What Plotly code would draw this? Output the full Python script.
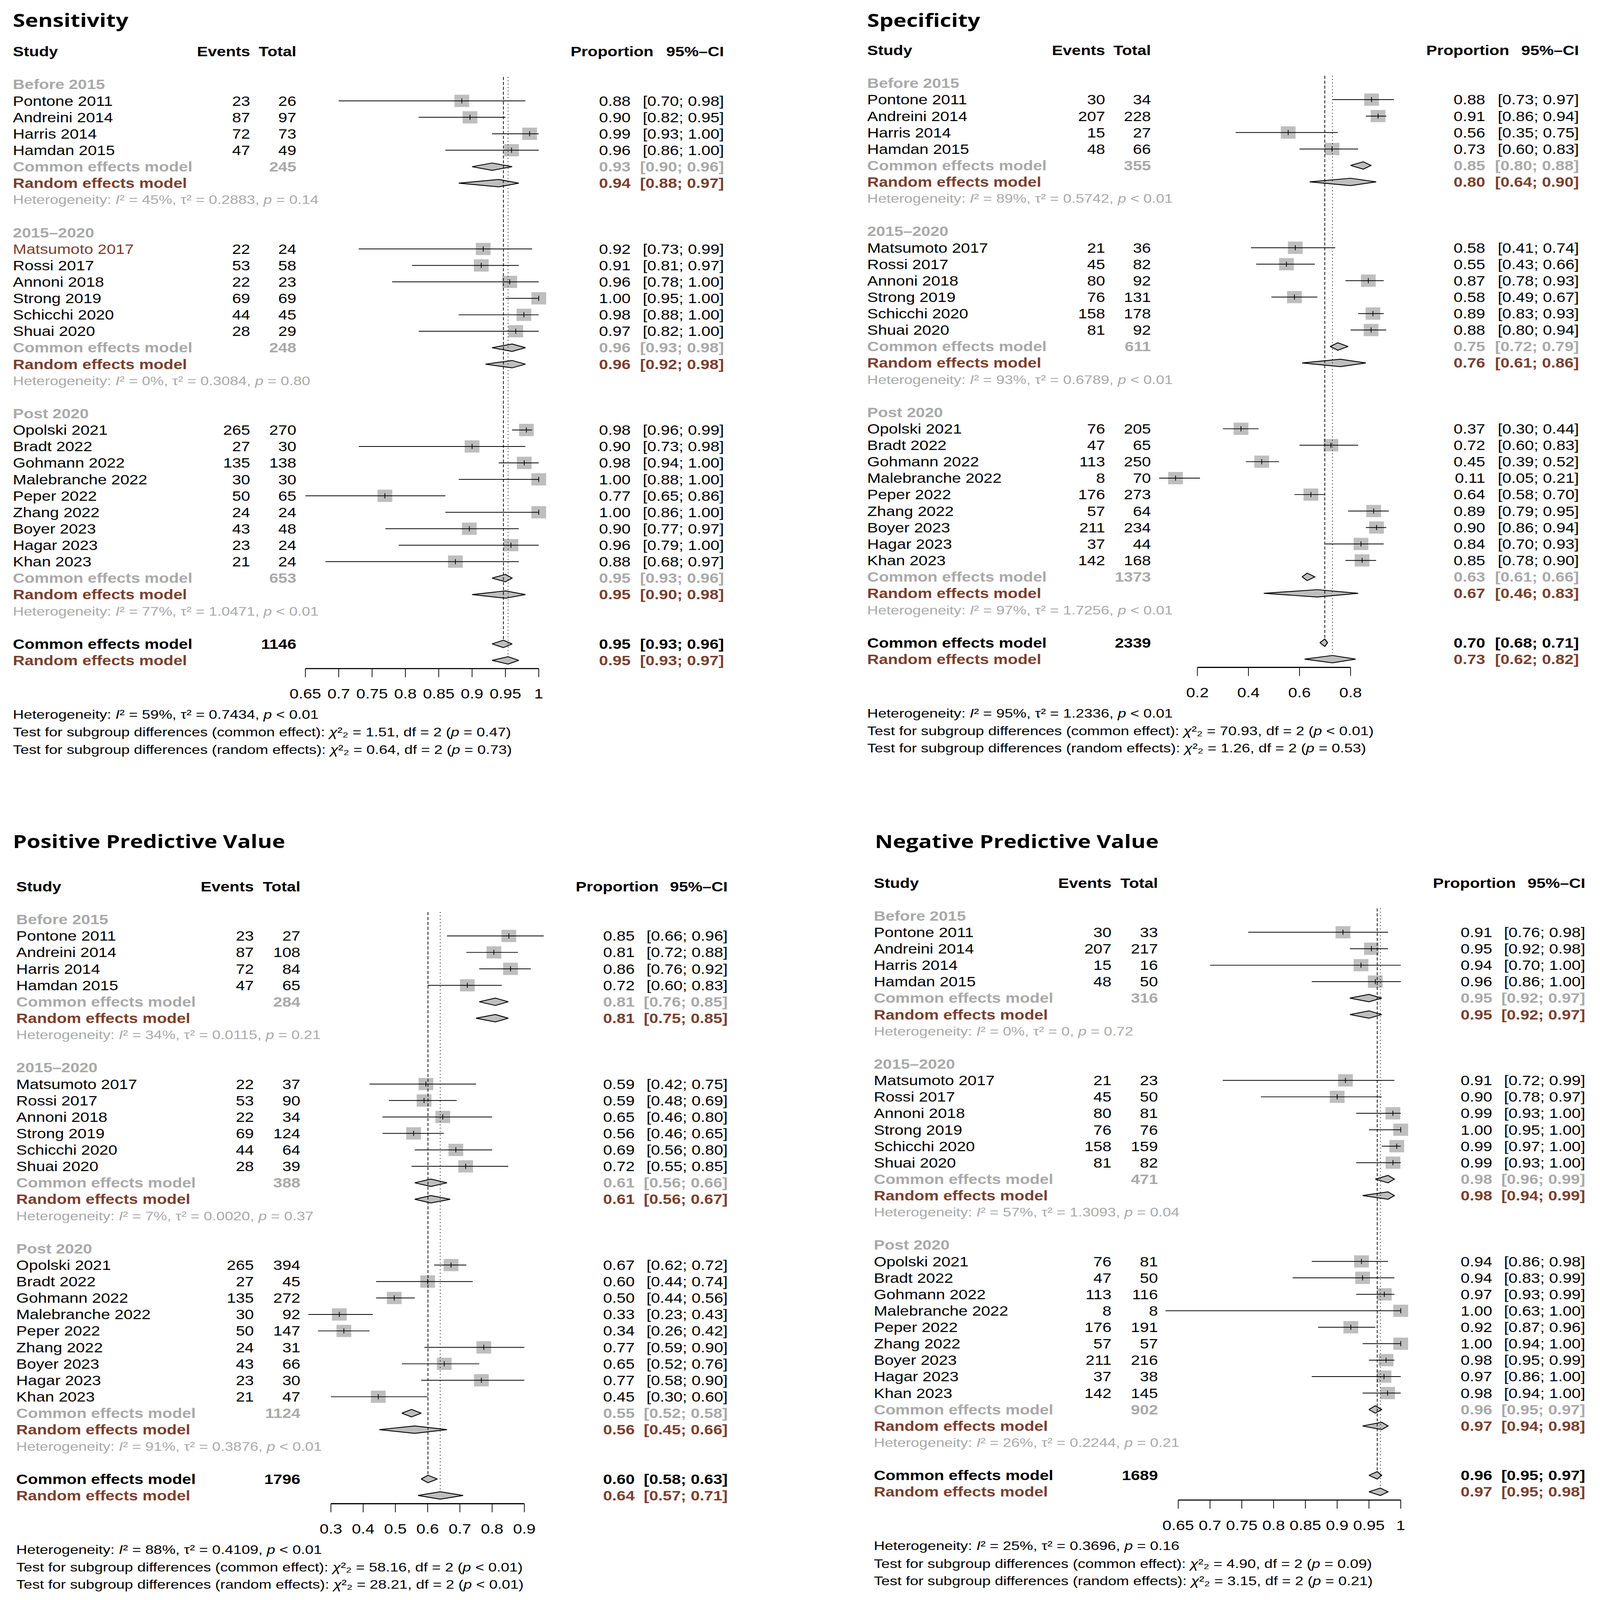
import plotly.graph_objects as go

W, H = 4336, 5221
RH = 53.7  # pixel height of one forest row

FONT = "Liberation Sans"
TITLE_FONT = "Open Sans"
BLACK = "#000000"
GRAY = "#a9a9a9"
BROWN = "#7b3f2e"
SQUARE = "#bebebe"

# ---------------- data ----------------
STUDIES = ["Pontone 2011", "Andreini 2014", "Harris 2014", "Hamdan 2015",
           "Matsumoto 2017", "Rossi 2017", "Annoni 2018", "Strong 2019", "Schicchi 2020", "Shuai 2020",
           "Opolski 2021", "Bradt 2022", "Gohmann 2022", "Malebranche 2022", "Peper 2022", "Zhang 2022",
           "Boyer 2023", "Hagar 2023", "Khan 2023"]
GROUPS = ["Before 2015", "2015–2020", "Post 2020"]
GROUP_SIZES = [4, 6, 9]

# Sensitivity
sens_events = [23, 87, 72, 47, 22, 53, 22, 69, 44, 28, 265, 27, 135, 30, 50, 24, 43, 23, 21]
sens_total = [26, 97, 73, 49, 24, 58, 23, 69, 45, 29, 270, 30, 138, 30, 65, 24, 48, 24, 24]
sens_prop = [0.88, 0.90, 0.99, 0.96, 0.92, 0.91, 0.96, 1.00, 0.98, 0.97, 0.98, 0.90, 0.98, 1.00, 0.77, 1.00, 0.90, 0.96, 0.88]
sens_lower = [0.70, 0.82, 0.93, 0.86, 0.73, 0.81, 0.78, 0.95, 0.88, 0.82, 0.96, 0.73, 0.94, 0.88, 0.65, 0.86, 0.77, 0.79, 0.68]
sens_upper = [0.98, 0.95, 1.00, 1.00, 0.99, 0.97, 1.00, 1.00, 1.00, 1.00, 0.99, 0.98, 1.00, 1.00, 0.86, 1.00, 0.97, 1.00, 0.97]
sens_sub_n = [245, 248, 653]
sens_sub_common = [(0.93, 0.90, 0.96), (0.96, 0.93, 0.98), (0.95, 0.93, 0.96)]
sens_sub_random = [(0.94, 0.88, 0.97), (0.96, 0.92, 0.98), (0.95, 0.90, 0.98)]
sens_sub_het = [("45%", "0.2883", "= 0.14"), ("0%", "0.3084", "= 0.80"), ("77%", "1.0471", "< 0.01")]
sens_n = 1146
sens_common = (0.947, 0.93, 0.96)
sens_random = (0.954, 0.93, 0.97)
sens_het = ("59%", "0.7434", "< 0.01")
sens_tests = [("common effect", "1.51", "= 0.47"), ("random effects", "0.64", "= 0.73")]
sens_ticks = [0.65, 0.7, 0.75, 0.8, 0.85, 0.9, 0.95, 1.0]
sens_tick_labels = ["0.65", "0.7", "0.75", "0.8", "0.85", "0.9", "0.95", "1"]

# Specificity
spec_events = [30, 207, 15, 48, 21, 45, 80, 76, 158, 81, 76, 47, 113, 8, 176, 57, 211, 37, 142]
spec_total = [34, 228, 27, 66, 36, 82, 92, 131, 178, 92, 205, 65, 250, 70, 273, 64, 234, 44, 168]
spec_prop = [0.88, 0.91, 0.56, 0.73, 0.58, 0.55, 0.87, 0.58, 0.89, 0.88, 0.37, 0.72, 0.45, 0.11, 0.64, 0.89, 0.90, 0.84, 0.85]
spec_lower = [0.73, 0.86, 0.35, 0.60, 0.41, 0.43, 0.78, 0.49, 0.83, 0.80, 0.30, 0.60, 0.39, 0.05, 0.58, 0.79, 0.86, 0.70, 0.78]
spec_upper = [0.97, 0.94, 0.75, 0.83, 0.74, 0.66, 0.93, 0.67, 0.93, 0.94, 0.44, 0.83, 0.52, 0.21, 0.70, 0.95, 0.94, 0.93, 0.90]
spec_sub_n = [355, 611, 1373]
spec_sub_common = [(0.85, 0.80, 0.88), (0.75, 0.72, 0.79), (0.63, 0.61, 0.66)]
spec_sub_random = [(0.80, 0.64, 0.90), (0.76, 0.61, 0.86), (0.67, 0.46, 0.83)]
spec_sub_het = [("89%", "0.5742", "< 0.01"), ("93%", "0.6789", "< 0.01"), ("97%", "1.7256", "< 0.01")]
spec_n = 2339
spec_common = (0.699, 0.68, 0.71)
spec_random = (0.729, 0.62, 0.82)
spec_het = ("95%", "1.2336", "< 0.01")
spec_tests = [("common effect", "70.93", "< 0.01"), ("random effects", "1.26", "= 0.53")]
spec_ticks = [0.2, 0.4, 0.6, 0.8]
spec_tick_labels = ["0.2", "0.4", "0.6", "0.8"]

# Positive predictive value
ppv_events = [23, 87, 72, 47, 22, 53, 22, 69, 44, 28, 265, 27, 135, 30, 50, 24, 43, 23, 21]
ppv_total = [27, 108, 84, 65, 37, 90, 34, 124, 64, 39, 394, 45, 272, 92, 147, 31, 66, 30, 47]
ppv_prop = [0.85, 0.81, 0.86, 0.72, 0.59, 0.59, 0.65, 0.56, 0.69, 0.72, 0.67, 0.60, 0.50, 0.33, 0.34, 0.77, 0.65, 0.77, 0.45]
ppv_lower = [0.66, 0.72, 0.76, 0.60, 0.42, 0.48, 0.46, 0.46, 0.56, 0.55, 0.62, 0.44, 0.44, 0.23, 0.26, 0.59, 0.52, 0.58, 0.30]
ppv_upper = [0.96, 0.88, 0.92, 0.83, 0.75, 0.69, 0.80, 0.65, 0.80, 0.85, 0.72, 0.74, 0.56, 0.43, 0.42, 0.90, 0.76, 0.90, 0.60]
ppv_sub_n = [284, 388, 1124]
ppv_sub_common = [(0.81, 0.76, 0.85), (0.61, 0.56, 0.66), (0.55, 0.52, 0.58)]
ppv_sub_random = [(0.81, 0.75, 0.85), (0.61, 0.56, 0.67), (0.56, 0.45, 0.66)]
ppv_sub_het = [("34%", "0.0115", "= 0.21"), ("7%", "0.0020", "= 0.37"), ("91%", "0.3876", "< 0.01")]
ppv_n = 1796
ppv_common = (0.601, 0.58, 0.63)
ppv_random = (0.639, 0.57, 0.71)
ppv_het = ("88%", "0.4109", "< 0.01")
ppv_tests = [("common effect", "58.16", "< 0.01"), ("random effects", "28.21", "< 0.01")]
ppv_ticks = [0.3, 0.4, 0.5, 0.6, 0.7, 0.8, 0.9]
ppv_tick_labels = ["0.3", "0.4", "0.5", "0.6", "0.7", "0.8", "0.9"]

# Negative predictive value
npv_events = [30, 207, 15, 48, 21, 45, 80, 76, 158, 81, 76, 47, 113, 8, 176, 57, 211, 37, 142]
npv_total = [33, 217, 16, 50, 23, 50, 81, 76, 159, 82, 81, 50, 116, 8, 191, 57, 216, 38, 145]
npv_prop = [0.91, 0.95, 0.94, 0.96, 0.91, 0.90, 0.99, 1.00, 0.99, 0.99, 0.94, 0.94, 0.97, 1.00, 0.92, 1.00, 0.98, 0.97, 0.98]
npv_lower = [0.76, 0.92, 0.70, 0.86, 0.72, 0.78, 0.93, 0.95, 0.97, 0.93, 0.86, 0.83, 0.93, 0.63, 0.87, 0.94, 0.95, 0.86, 0.94]
npv_upper = [0.98, 0.98, 1.00, 1.00, 0.99, 0.97, 1.00, 1.00, 1.00, 1.00, 0.98, 0.99, 0.99, 1.00, 0.96, 1.00, 0.99, 1.00, 1.00]
npv_sub_n = [316, 471, 902]
npv_sub_common = [(0.95, 0.92, 0.97), (0.98, 0.96, 0.99), (0.96, 0.95, 0.97)]
npv_sub_random = [(0.95, 0.92, 0.97), (0.98, 0.94, 0.99), (0.97, 0.94, 0.98)]
npv_sub_het = [("0%", "0", "= 0.72"), ("57%", "1.3093", "= 0.04"), ("26%", "0.2244", "= 0.21")]
npv_n = 1689
npv_common = (0.963, 0.95, 0.97)
npv_random = (0.968, 0.95, 0.98)
npv_het = ("25%", "0.3696", "= 0.16")
npv_tests = [("common effect", "4.90", "= 0.09"), ("random effects", "3.15", "= 0.21")]
npv_ticks = [0.65, 0.7, 0.75, 0.8, 0.85, 0.9, 0.95, 1.0]
npv_tick_labels = ["0.65", "0.7", "0.75", "0.8", "0.85", "0.9", "0.95", "1"]

PANELS = [
    dict(title="Sensitivity", events=sens_events, total=sens_total, prop=sens_prop, lower=sens_lower,
         upper=sens_upper, sub_n=sens_sub_n, sub_common=sens_sub_common, sub_random=sens_sub_random,
         sub_het=sens_sub_het, n=sens_n, common=sens_common, random=sens_random, het=sens_het,
         tests=sens_tests, ticks=sens_ticks, tick_labels=sens_tick_labels, brown_studies=["Matsumoto 2017"]),
    dict(title="Specificity", events=spec_events, total=spec_total, prop=spec_prop, lower=spec_lower,
         upper=spec_upper, sub_n=spec_sub_n, sub_common=spec_sub_common, sub_random=spec_sub_random,
         sub_het=spec_sub_het, n=spec_n, common=spec_common, random=spec_random, het=spec_het,
         tests=spec_tests, ticks=spec_ticks, tick_labels=spec_tick_labels, brown_studies=[]),
    dict(title="Positive Predictive Value", events=ppv_events, total=ppv_total, prop=ppv_prop, lower=ppv_lower,
         upper=ppv_upper, sub_n=ppv_sub_n, sub_common=ppv_sub_common, sub_random=ppv_sub_random,
         sub_het=ppv_sub_het, n=ppv_n, common=ppv_common, random=ppv_random, het=ppv_het,
         tests=ppv_tests, ticks=ppv_ticks, tick_labels=ppv_tick_labels, brown_studies=[]),
    dict(title="Negative Predictive Value", events=npv_events, total=npv_total, prop=npv_prop, lower=npv_lower,
         upper=npv_upper, sub_n=npv_sub_n, sub_common=npv_sub_common, sub_random=npv_sub_random,
         sub_het=npv_sub_het, n=npv_n, common=npv_common, random=npv_random, het=npv_het,
         tests=npv_tests, ticks=npv_ticks, tick_labels=npv_tick_labels, brown_studies=[]),
]

# ---------------- layout geometry (pixels) ----------------
GEOM = [
    dict(y0=168, title_row=-1.90, title_x=35, study_x=35, events_r=678, total_r=803, prop_r=1709,
         prophdr_r=1771, ci_r=1962, tick_px=(827.6, 1460.0), xlim=(0.60, 1.03)),
    dict(y0=164, title_row=-1.81, title_x=2350, study_x=2350, events_r=2995, total_r=3119, prop_r=4025,
         prophdr_r=4090, ci_r=4279, tick_px=(3245.0, 3660.0), xlim=(0.0, 1.0)),
    dict(y0=2893, title_row=-2.74, title_x=35, study_x=44, events_r=688, total_r=814, prop_r=1720,
         prophdr_r=1785, ci_r=1972, tick_px=(896.8, 1421.0), xlim=(0.15, 1.0)),
    dict(y0=2881, title_row=-2.51, title_x=2371, study_x=2368, events_r=3012, total_r=3138, prop_r=4044,
         prophdr_r=4108, ci_r=4296, tick_px=(3193.0, 3796.0), xlim=(0.60, 1.03)),
]

ROW_TOP, ROW_BOTTOM = -3.0, 43.0
AXIS_ROW, TICK_LEN, TICKLAB_ROW = 37.5, 0.52, 39.03
HET_ROW, TEST_ROWS = 40.27, (41.35, 42.4)
HALF_H = 0.224
FS, FS_HET, FS_TITLE = 44, 41, 60

fig = go.Figure()
layout_extra = {}


def ci_txt(lo, hi):
    return f"[{lo:.2f}; {hi:.2f}]"


def het_txt(h):
    return f"Heterogeneity: <i>I</i>² = {h[0]}, τ² = {h[1]}, <i>p</i> {h[2]}"


for k, (P, G) in enumerate(zip(PANELS, GEOM), start=1):
    xa, ya = f"x{k}", f"y{k}"
    # ----- axes -----
    t0, t1 = P["ticks"][0], P["ticks"][-1]
    scale = (G["tick_px"][1] - G["tick_px"][0]) / (t1 - t0)
    px = lambda v: G["tick_px"][0] + (v - t0) * scale
    xd = [px(G["xlim"][0]) / W, px(G["xlim"][1]) / W]
    top_px = G["y0"] + ROW_TOP * RH
    bot_px = G["y0"] + ROW_BOTTOM * RH
    yd = [1 - bot_px / H, 1 - top_px / H]
    layout_extra[f"xaxis{k}"] = dict(domain=xd, range=list(G["xlim"]), visible=False, anchor=ya, fixedrange=True)
    layout_extra[f"yaxis{k}"] = dict(domain=yd, range=[ROW_BOTTOM, ROW_TOP], visible=False, anchor=xa,
                                     fixedrange=True)

    texts = {}

    def add(x, row, txt, anchor, color, size, family=FONT):
        texts.setdefault((anchor, color, size, family), []).append((x, row, txt))

    # ----- title and header -----
    add(G["title_x"], G["title_row"], f"<b>{P['title']}</b>", "left", BLACK, FS_TITLE, TITLE_FONT)
    add(G["study_x"], 0, "<b>Study</b>", "left", BLACK, FS)
    add(G["events_r"], 0, "<b>Events</b>", "right", BLACK, FS)
    add(G["total_r"], 0, "<b>Total</b>", "right", BLACK, FS)
    add(G["prophdr_r"], 0, "<b>Proportion</b>", "right", BLACK, FS)
    add(G["ci_r"], 0, "<b>95%–CI</b>", "right", BLACK, FS)

    study_rows, study_est = [], []
    diamonds = []
    row = 2
    idx = 0
    for g, gname in enumerate(GROUPS):
        add(G["study_x"], row, f"<b>{gname}</b>", "left", GRAY, FS)
        row += 1
        for _ in range(GROUP_SIZES[g]):
            name = STUDIES[idx]
            col = BROWN if name in P["brown_studies"] else BLACK
            add(G["study_x"], row, name, "left", col, FS)
            add(G["events_r"], row, str(P["events"][idx]), "right", BLACK, FS)
            add(G["total_r"], row, str(P["total"][idx]), "right", BLACK, FS)
            add(G["prop_r"], row, f"{P['prop'][idx]:.2f}", "right", BLACK, FS)
            add(G["ci_r"], row, ci_txt(P["lower"][idx], P["upper"][idx]), "right", BLACK, FS)
            study_rows.append(row)
            study_est.append(P["events"][idx] / P["total"][idx])
            idx += 1
            row += 1
        ce, clo, chi = P["sub_common"][g]
        add(G["study_x"], row, "<b>Common effects model</b>", "left", GRAY, FS)
        add(G["total_r"], row, f"<b>{P['sub_n'][g]}</b>", "right", GRAY, FS)
        add(G["prop_r"], row, f"<b>{ce:.2f}</b>", "right", GRAY, FS)
        add(G["ci_r"], row, f"<b>{ci_txt(clo, chi)}</b>", "right", GRAY, FS)
        diamonds.append((ce, clo, chi, row))
        row += 1
        re_, rlo, rhi = P["sub_random"][g]
        add(G["study_x"], row, "<b>Random effects model</b>", "left", BROWN, FS)
        add(G["prop_r"], row, f"<b>{re_:.2f}</b>", "right", BROWN, FS)
        add(G["ci_r"], row, f"<b>{ci_txt(rlo, rhi)}</b>", "right", BROWN, FS)
        diamonds.append((re_, rlo, rhi, row))
        row += 1
        add(G["study_x"], row, het_txt(P["sub_het"][g]), "left", GRAY, FS_HET)
        row += 2

    common_row, random_row = row, row + 1
    ce, clo, chi = P["common"]
    add(G["study_x"], common_row, "<b>Common effects model</b>", "left", BLACK, FS)
    add(G["total_r"], common_row, f"<b>{P['n']}</b>", "right", BLACK, FS)
    add(G["prop_r"], common_row, f"<b>{ce:.2f}</b>", "right", BLACK, FS)
    add(G["ci_r"], common_row, f"<b>{ci_txt(clo, chi)}</b>", "right", BLACK, FS)
    diamonds.append((ce, clo, chi, common_row))
    re_, rlo, rhi = P["random"]
    add(G["study_x"], random_row, "<b>Random effects model</b>", "left", BROWN, FS)
    add(G["prop_r"], random_row, f"<b>{re_:.2f}</b>", "right", BROWN, FS)
    add(G["ci_r"], random_row, f"<b>{ci_txt(rlo, rhi)}</b>", "right", BROWN, FS)
    diamonds.append((re_, rlo, rhi, random_row))

    add(G["study_x"], HET_ROW, het_txt(P["het"]), "left", BLACK, FS_HET)
    for (kind, chi2, p), trow in zip(P["tests"], TEST_ROWS):
        add(G["study_x"], trow,
            f"Test for subgroup differences ({kind}): <i>χ</i>²₂ = {chi2}, df = 2 (<i>p</i> {p})",
            "left", BLACK, FS_HET)

    # ----- forest marks -----
    fig.add_trace(go.Scatter(x=study_est, y=study_rows, mode="markers", xaxis=xa, yaxis=ya,
                             marker=dict(symbol="square", size=40, color=SQUARE, line=dict(width=0)),
                             hoverinfo="skip", showlegend=False, cliponaxis=False))
    cx, cy = [], []
    for lo, hi, r in zip(P["lower"], P["upper"], study_rows):
        cx += [lo, hi, None]
        cy += [r, r, None]
    fig.add_trace(go.Scatter(x=cx, y=cy, mode="lines", xaxis=xa, yaxis=ya, line=dict(color=BLACK, width=2.5),
                             hoverinfo="skip", showlegend=False))
    fig.add_trace(go.Scatter(x=study_est, y=study_rows, mode="markers", xaxis=xa, yaxis=ya,
                             marker=dict(symbol="line-ns", size=12, line=dict(width=2, color=BLACK)),
                             hoverinfo="skip", showlegend=False, cliponaxis=False))
    dx, dy = [], []
    for est, lo, hi, r in diamonds:
        dx += [lo, est, hi, est, lo, None]
        dy += [r, r - HALF_H, r, r + HALF_H, r, None]
    fig.add_trace(go.Scatter(x=dx, y=dy, mode="lines", fill="toself", fillcolor=SQUARE, xaxis=xa, yaxis=ya,
                             line=dict(color=BLACK, width=2.8), hoverinfo="skip", showlegend=False))
    # reference lines (common: dashed, random: dotted)
    fig.add_trace(go.Scatter(x=[P["common"][0]] * 2, y=[1.55, common_row - HALF_H], mode="lines",
                             xaxis=xa, yaxis=ya, line=dict(color=BLACK, width=2, dash="10px,6px"),
                             hoverinfo="skip", showlegend=False))
    fig.add_trace(go.Scatter(x=[P["random"][0]] * 2, y=[1.55, random_row - HALF_H], mode="lines",
                             xaxis=xa, yaxis=ya, line=dict(color=BLACK, width=2, dash="2.5px,8.5px"),
                             hoverinfo="skip", showlegend=False))
    # axis
    fig.add_trace(go.Scatter(x=[t0, t1], y=[AXIS_ROW, AXIS_ROW], mode="lines", xaxis=xa, yaxis=ya,
                             line=dict(color=BLACK, width=3.6), hoverinfo="skip", showlegend=False))
    tx, ty = [], []
    for t in P["ticks"]:
        tx += [t, t, None]
        ty += [AXIS_ROW, AXIS_ROW + TICK_LEN, None]
    fig.add_trace(go.Scatter(x=tx, y=ty, mode="lines", xaxis=xa, yaxis=ya, line=dict(color=BLACK, width=2),
                             hoverinfo="skip", showlegend=False))
    fig.add_trace(go.Scatter(x=P["ticks"], y=[TICKLAB_ROW + 0.108 * FS / RH] * len(P["ticks"]),
                             text=P["tick_labels"], mode="text", textposition="middle center",
                             textfont=dict(family=FONT, size=FS, color=BLACK), xaxis=xa, yaxis=ya,
                             hoverinfo="skip", showlegend=False, cliponaxis=False))

    # ----- text traces -----
    for (anchor, color, size, family), items in texts.items():
        fig.add_trace(go.Scatter(
            x=[it[0] for it in items], y=[it[1] + 0.108 * size / RH for it in items],
            text=[it[2] for it in items], mode="text",
            textposition="middle right" if anchor == "left" else "middle left",
            textfont=dict(family=family, size=size, color=color),
            xaxis="x9", yaxis=ya, hoverinfo="skip", showlegend=False, cliponaxis=False))

layout_extra["xaxis9"] = dict(domain=[0, 1], range=[0, W], visible=False, anchor="y1", fixedrange=True)

fig.update_layout(width=W, height=H, autosize=False, margin=dict(l=0, r=0, t=0, b=0, pad=0),
                  paper_bgcolor="white", plot_bgcolor="rgba(0,0,0,0)", showlegend=False,
                  font=dict(family=FONT, color=BLACK), **layout_extra)

# Fit the 4336x5221 page into the browser viewport if the viewport differs in size.
FIT_SCRIPT = """
var el = document.getElementById('{plot_id}');
var de = document.documentElement, b = document.body;
de.style.margin = '0'; de.style.padding = '0'; de.style.overflow = 'hidden';
b.style.margin = '0'; b.style.padding = '0'; b.style.overflow = 'hidden';
var vw = window.innerWidth, vh = window.innerHeight;
var sx = vw / %d, sy = vh / %d;
if (Math.abs(sx - 1) > 0.002 || Math.abs(sy - 1) > 0.002) {
  el.style.transformOrigin = '0 0';
  el.style.transform = 'scale(' + sx + ',' + sy + ')';
}
""" % (W, H)

fig.write_html("out.html", post_script=FIT_SCRIPT, config={"displayModeBar": False, "staticPlot": True})
